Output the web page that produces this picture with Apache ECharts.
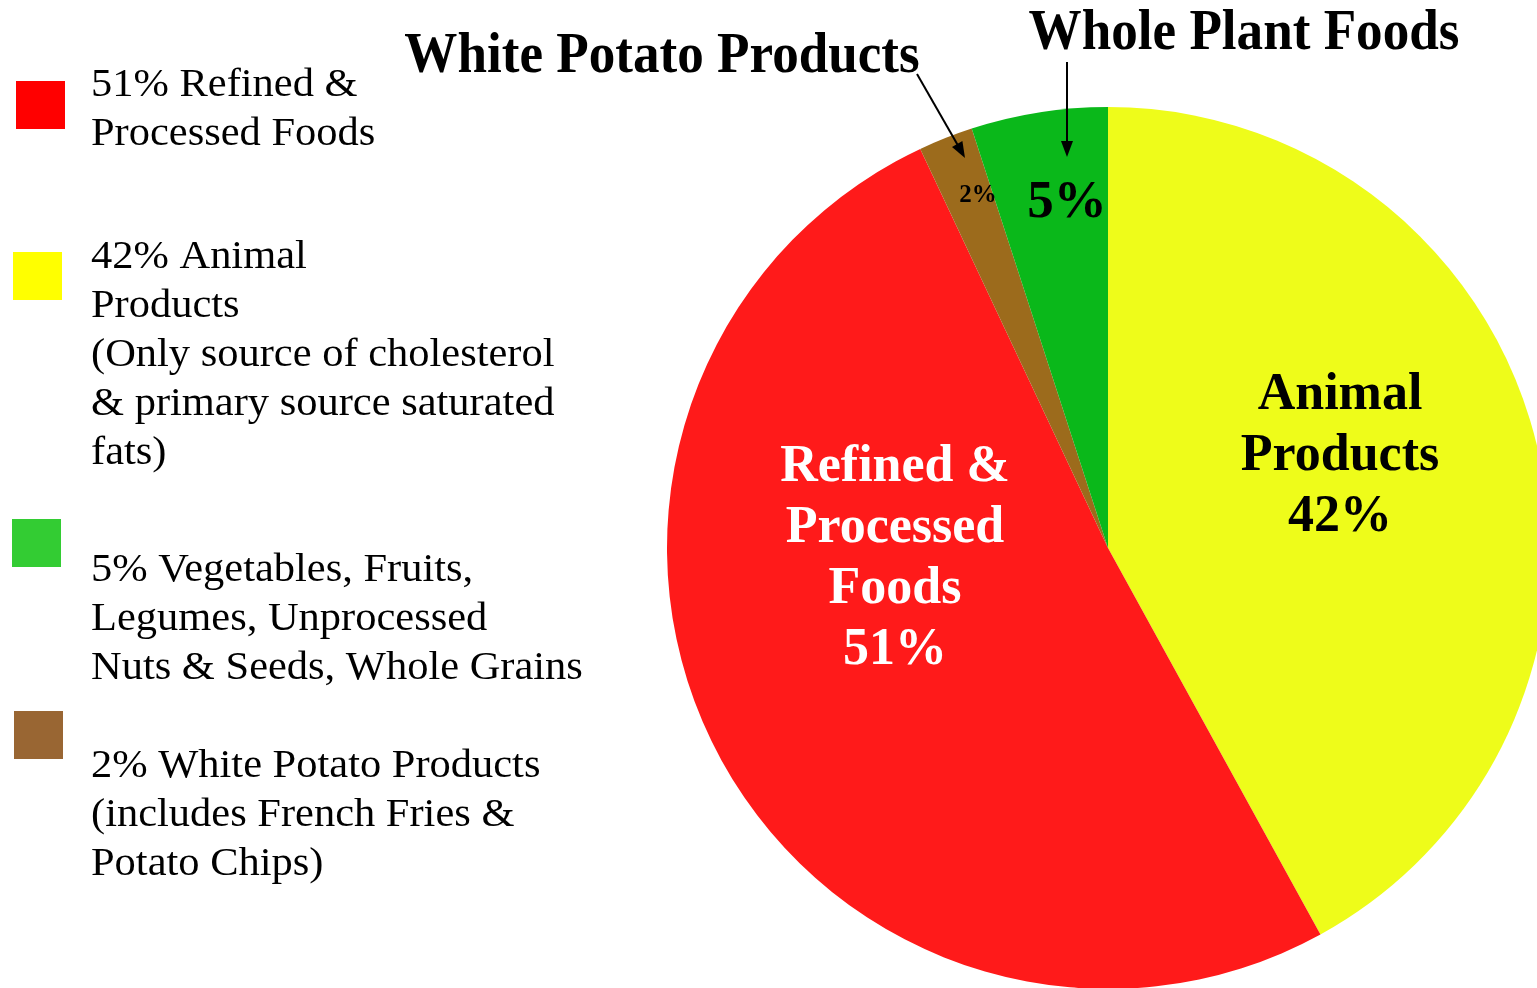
<!DOCTYPE html>
<html><head><meta charset="utf-8">
<script src="https://cdn.jsdelivr.net/npm/echarts@6/dist/echarts.min.js"></script>
<style>html,body{margin:0;padding:0;background:#fff}#c{width:1537px;height:988px}</style>
</head><body><div id="c"></div>
<script>
// Data
const categories = ['Animal Products', 'Refined & Processed Foods', 'White Potato Products', 'Whole Plant Foods'];
const values = [42, 51, 2, 5];
const sliceLabels = ['Animal\nProducts\n42%', 'Refined &\nProcessed\nFoods\n51%', '2%', '5%'];
const calloutTitles = ['White Potato Products', 'Whole Plant Foods'];
const legendTexts = [
  '51% Refined &\nProcessed Foods',
  '42% Animal\nProducts\n(Only source of cholesterol\n& primary source saturated\nfats)',
  '5% Vegetables, Fruits,\nLegumes, Unprocessed\nNuts & Seeds, Whole Grains',
  '2% White Potato Products\n(includes French Fries &\nPotato Chips)'
];

// Styles / layout
const FONT = '"Liberation Serif", "Times New Roman", serif';
const sliceColors = ['#EEFC1A', '#FF1A1A', '#9C6B1C', '#0AB81A'];
const legendColors = ['#FF0000', '#FFFF00', '#33CC33', '#996633'];
const sliceLabelPos = [[1340, 457], [895, 559], [978, 196], [1067, 203]];
const sliceLabelStyle = [
  {color: '#000', fontSize: 52, lineHeight: 61},
  {color: '#fff', fontSize: 52, lineHeight: 61},
  {color: '#000', fontSize: 25, lineHeight: 30},
  {color: '#000', fontSize: 53, lineHeight: 60}
];
const legendBoxes = [[16, 81], [13, 252], [12, 519], [14, 711]];
const legendTextTop = [61, 233, 546, 742];
const titlePos = [[662, 57], [1244, 34]];

const chart = echarts.init(document.getElementById('c'));

const graphics = [];
legendTexts.forEach((t, i) => {
  graphics.push({type: 'rect', z: 50, shape: {x: legendBoxes[i][0], y: legendBoxes[i][1], width: 49, height: 48}, style: {fill: legendColors[i]}});
  graphics.push({type: 'text', z: 50, x: 91, y: legendTextTop[i], scaleX: 1.089,
    style: {x: 0, y: 0, text: t, font: '39px ' + FONT, fill: '#000', lineHeight: 49, textVerticalAlign: 'top', verticalAlign: 'top'}});
});
// Callout titles
calloutTitles.forEach((t, i) => {
  graphics.push({type: 'text', z: 50, x: titlePos[i][0], y: titlePos[i][1], scaleX: 0.932,
    style: {x: 0, y: 0, text: t, font: 'bold 57px ' + FONT, fill: '#000', textAlign: 'center', align: 'center', textVerticalAlign: 'middle', verticalAlign: 'middle'}});
});
// Arrows
graphics.push({type: 'line', z: 100, shape: {x1: 917, y1: 74, x2: 960, y2: 149}, style: {stroke: '#000', lineWidth: 2}});
graphics.push({type: 'polygon', z: 100, shape: {points: [[965, 158], [952, 147], [962.4, 141.1]]}, style: {fill: '#000'}});
graphics.push({type: 'line', z: 100, shape: {x1: 1067, y1: 62, x2: 1067, y2: 146}, style: {stroke: '#000', lineWidth: 2}});
graphics.push({type: 'polygon', z: 100, shape: {points: [[1067, 157], [1061, 141], [1073, 141]]}, style: {fill: '#000'}});

chart.setOption({
  backgroundColor: '#fff',
  animation: false,
  graphic: graphics,
  series: [{
    type: 'pie',
    center: [1108, 548],
    radius: 441,
    startAngle: 90,
    clockwise: true,
    avoidLabelOverlap: false,
    silent: true,
    labelLine: {show: false},
    data: categories.map((n, i) => ({
      name: n,
      value: values[i],
      itemStyle: {color: sliceColors[i]},
      label: {
        show: true,
        position: 'inside',
        formatter: sliceLabels[i],
        color: sliceLabelStyle[i].color,
        fontSize: sliceLabelStyle[i].fontSize,
        fontWeight: 'bold',
        fontFamily: FONT,
        lineHeight: sliceLabelStyle[i].lineHeight,
        align: 'center',
        textBorderWidth: 0
      }
    })),
    labelLayout: function (p) {
      const pos = sliceLabelPos[p.dataIndex];
      return {x: pos[0], y: pos[1], align: 'center', verticalAlign: 'middle'};
    }
  }]
});
</script></body></html>
